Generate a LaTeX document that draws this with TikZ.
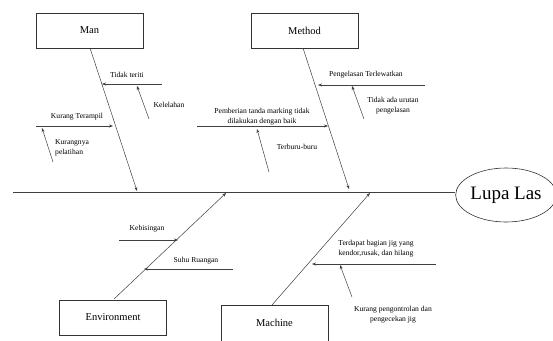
\documentclass[tikz,border=0pt]{standalone}
\usepackage{fontspec}
\setmainfont{Liberation Serif}
\usetikzlibrary{arrows.meta,shapes.geometric}
\begin{document}
\begin{tikzpicture}[x=1pt,y=-1pt,
  cat/.style={draw=black!80,line width=0.6pt,minimum width=107pt,minimum height=35pt,inner sep=0pt,font=\fontsize{10.5}{12}\selectfont},
  lbl/.style={font=\fontsize{7.6}{10}\selectfont,inner sep=0pt,align=center},
  bone/.style={draw=black!75,line width=0.5pt,-{Stealth[length=4pt,width=3pt]}},
  sub/.style={draw=black!75,line width=0.5pt,-{Stealth[length=4pt,width=3pt]}}]
\useasboundingbox (0,0) rectangle (553,340);
\fill[white] (0,0) rectangle (553,340);
% head
\node[ellipse,draw=black!80,line width=0.6pt,minimum width=92pt,minimum height=54pt,inner sep=0pt,font=\fontsize{19}{21}\selectfont] (head) at (506,195) {Lupa Las};
\coordinate (tail) at (13,192);
\draw[draw=black!75,line width=0.6pt] (tail) -- (head.west |- 0,192);
% category boxes
\node[cat] (man) at (89.5,30.5) {Man};
\node[cat] (method) at (304.5,30.5) {Method};
\node[cat] (env) at (113,317.5) {Environment};
\node[cat,minimum height=36pt] (mach) at (274.5,323) {Machine};
% bone end points
\coordinate (m0) at (90,48);   \coordinate (m1) at (137,191);
\coordinate (t0) at (303,48);  \coordinate (t1) at (349,189);
\coordinate (e0) at (114,299); \coordinate (e1) at (226,193);
\coordinate (c0) at (272,305); \coordinate (c1) at (370,193);
\draw[bone] (m0) -- (m1);
\draw[bone] (t0) -- (t1);
\draw[bone] (e0) -- (e1);
\draw[bone] (c0) -- (c1);
% Man causes
\coordinate (a1s) at (162,84); \coordinate (a1e) at (102,84);
\draw[sub] (a1s) -- (a1e);
\node[lbl] (l1) at (127,75) {Tidak teriti};
\coordinate (a2s) at (149,119); \coordinate (a2e) at (137,86);
\draw[sub] (a2s) -- (a2e);
\node[lbl] (l2) at (169,105) {Kelelahan};
\coordinate (a3s) at (36,126); \coordinate (a3e) at (113,126);
\draw[sub] (a3s) -- (a3e);
\node[lbl] (l3) at (77,117) {Kurang Terampil};
\coordinate (a4s) at (53,162); \coordinate (a4e) at (42,128);
\draw[sub] (a4s) -- (a4e);
\node[lbl,align=left,anchor=west] (l4) at (55,148) {Kurangnya\\pelatihan};
% Method causes
\coordinate (b1s) at (197,126); \coordinate (b1e) at (328,126);
\draw[sub] (b1s) -- (b1e);
\node[lbl] (k1) at (262,117) {Pemberian tanda marking tidak\\dilakukan dengan baik};
\coordinate (b2s) at (269,172); \coordinate (b2e) at (257,129);
\draw[sub] (b2s) -- (b2e);
\node[lbl] (k2) at (297,147) {Terburu-buru};
\coordinate (b3s) at (425,85); \coordinate (b3e) at (318,85);
\draw[sub] (b3s) -- (b3e);
\node[lbl] (k3) at (366,75) {Pengelasan Terlewatkan};
\coordinate (b4s) at (364,119); \coordinate (b4e) at (352,86);
\draw[sub] (b4s) -- (b4e);
\node[lbl] (k4) at (393,105.5) {Tidak ada urutan\\pengelasan};
% Environment causes
\coordinate (e1s) at (119,240); \coordinate (e1e) at (178,240);
\draw[sub] (e1s) -- (e1e);
\node[lbl] (n1) at (147,229) {Kebisingan};
\coordinate (e2s) at (233,269); \coordinate (e2e) at (144,269);
\draw[sub] (e2s) -- (e2e);
\node[lbl] (n2) at (196,261) {Suhu Ruangan};
% Machine causes
\coordinate (c1s) at (436,264); \coordinate (c1e) at (312,264);
\draw[sub] (c1s) -- (c1e);
\node[lbl] (p1) at (376,248.5) {Terdapat bagian jig yang\\kendor,rusak, dan hilang};
\coordinate (c2s) at (352,297); \coordinate (c2e) at (340,265);
\draw[sub] (c2s) -- (c2e);
\node[lbl] (p2) at (393,315) {Kurang pengontrolan dan\\pengecekan jig};
\end{tikzpicture}
\end{document}
